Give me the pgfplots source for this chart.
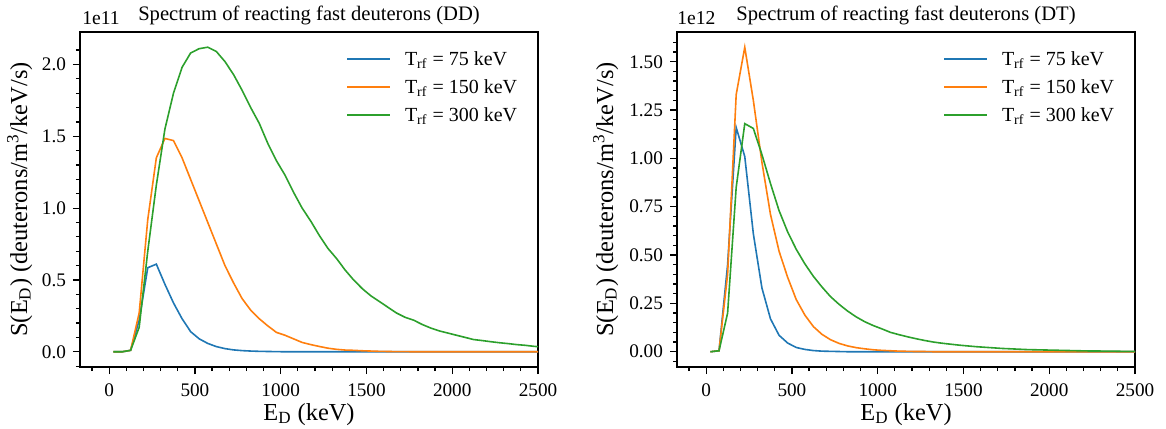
\documentclass[border=0pt]{standalone}
\usepackage{fontspec}
\setmainfont{Liberation Serif}
\usepackage{pgfplots}
\usepackage{pgfplotstable}
\pgfplotsset{compat=1.18}

\definecolor{mplblue}{HTML}{1F77B4}
\definecolor{mplorange}{HTML}{FF7F0E}
\definecolor{mplgreen}{HTML}{2CA02C}

% columns: E_D (keV), T_rf = 75, 150, 300 keV ; values in 1e11
\pgfplotstableread{
E    a      b      c
25   0      0      0
75   0      0      0
125  0.01   0.01   0.01
175  0.22   0.27   0.17
225  0.585  0.92   0.70
275  0.61   1.35   1.16
325  0.47   1.485  1.55
375  0.34   1.47   1.80
425  0.23   1.35   1.98
475  0.14   1.20   2.08
525  0.09   1.05   2.11
575  0.058  0.90   2.12
625  0.036  0.75   2.09
675  0.022  0.60   2.02
725  0.013  0.48   1.93
775  0.008  0.37   1.82
825  0.005  0.29   1.70
875  0.003  0.23   1.59
925  0.002  0.18   1.45
975  0.001  0.135  1.33
1025 0      0.115  1.23
1075 0      0.09   1.11
1125 0      0.065  1.00
1175 0      0.05   0.91
1225 0      0.037  0.81
1275 0      0.025  0.72
1325 0      0.017  0.65
1375 0      0.012  0.57
1425 0      0.01   0.50
1475 0      0.007  0.44
1525 0      0.005  0.39
1575 0      0.003  0.35
1625 0      0.002  0.31
1675 0      0.001  0.27
1725 0      0.001  0.24
1775 0      0      0.22
1825 0      0      0.19
1875 0      0      0.165
1925 0      0      0.145
1975 0      0      0.13
2025 0      0      0.115
2075 0      0      0.10
2125 0      0      0.085
2175 0      0      0.078
2225 0      0      0.07
2275 0      0      0.063
2325 0      0      0.057
2375 0      0      0.05
2425 0      0      0.045
2475 0      0      0.038
2525 0      0      0.033
}\ddtable

% same columns, values in 1e12
\pgfplotstableread{
E    a      b      c
25   0      0      0
75   0.005  0.005  0.005
125  0.45   0.40   0.20
175  1.16   1.33   0.85
225  1.01   1.575  1.18
275  0.61   1.30   1.155
325  0.33   0.98   1.02
375  0.17   0.71   0.87
425  0.085  0.52   0.73
475  0.045  0.385  0.62
525  0.022  0.27   0.53
575  0.012  0.19   0.455
625  0.006  0.13   0.39
675  0.003  0.09   0.335
725  0.002  0.062  0.285
775  0.001  0.043  0.245
825  0      0.03   0.21
875  0      0.021  0.18
925  0      0.015  0.155
975  0      0.01   0.135
1025 0      0.007  0.118
1075 0      0.005  0.10
1125 0      0.003  0.088
1175 0      0.002  0.077
1225 0      0.001  0.067
1275 0      0.001  0.058
1325 0      0      0.05
1375 0      0      0.044
1425 0      0      0.039
1475 0      0      0.034
1525 0      0      0.03
1575 0      0      0.026
1625 0      0      0.023
1675 0      0      0.02
1725 0      0      0.017
1775 0      0      0.015
1825 0      0      0.013
1875 0      0      0.011
1925 0      0      0.01
1975 0      0      0.009
2025 0      0      0.008
2075 0      0      0.007
2125 0      0      0.006
2175 0      0      0.005
2225 0      0      0.004
2275 0      0      0.004
2325 0      0      0.003
2375 0      0      0.003
2425 0      0      0.002
2475 0      0      0.002
2525 0      0      0.002
}\dttable

\pgfplotsset{
  legimg/.style={legend image code/.code={%
    \draw[#1, line width=0.8pt] (0pt,0.6pt) -- (21.5pt,0.6pt);
    \path (28.5pt,0.6pt);}},
  specplot/.style={
    width=229pt, height=167.5pt, scale only axis,
    anchor=south west, clip mode=individual,
    axis line style={line width=0.8pt},
    tick align=outside, tick pos=left,
    major tick length=3.5pt, minor tick length=2pt,
    every tick/.style={black, line width=0.6pt},
    xmin=-170, xmax=2500,
    xtick={0,500,...,2500},
    minor xtick={-100,0,...,2500},
    /pgf/number format/assume math mode=true,
    ticklabel style={font=\fontsize{9.6}{11}\selectfont},
    xticklabel style={yshift=-1.5pt},
    scaled ticks=false,
    xticklabel={\pgfmathprintnumber[fixed,1000 sep={}]{\tick}},
    xlabel={E\textsubscript{D} (keV)},
    ylabel={S(E\textsubscript{D}) (deuterons/m\textsuperscript{3}/keV/s)},
    label style={font=\fontsize{12.2}{14}\selectfont},
    xlabel style={at={(rel axis cs:0.5,0)}, anchor=base, yshift=-26.5pt},
    title style={font=\fontsize{10.3}{12}\selectfont, at={(rel axis cs:0.5,1)}, anchor=base, yshift=-0.5pt},
    legend cell align=left,
    legend style={draw=none, fill=none, inner sep=0pt, anchor=north west,
      at={(0.5808,0.947)}, row sep=4pt,
      font=\fontsize{10}{12}\selectfont,
      nodes={inner sep=0pt, text height=7.5pt, text depth=2.5pt}},
    every axis plot/.append style={line width=0.8pt},
  }
}

\begin{document}
\begin{tikzpicture}
\useasboundingbox (0,0) rectangle (583pt,214pt);

\begin{axis}[specplot, at={(40pt,30.5pt)},
  ymin=-0.106, ymax=2.226,
  ytick={0,0.5,...,2.0},
  minor ytick={-0.1,0,0.1,...,2.2},
  yticklabel={\pgfmathprintnumber[fixed,fixed zerofill,precision=1]{\tick}},
  ylabel style={at={(rel axis cs:-0.1157,0.5)}, anchor=base},
  title={Spectrum of reacting fast deuterons (DD)}]
\addplot[mplblue, legimg=mplblue] table[x=E,y=a] {\ddtable};
\addplot[mplorange, legimg=mplorange] table[x=E,y=b] {\ddtable};
\addplot[mplgreen, legimg=mplgreen] table[x=E,y=c] {\ddtable};
\legend{T\textsubscript{rf} = 75 keV, T\textsubscript{rf} = 150 keV, T\textsubscript{rf} = 300 keV}
\node[anchor=base west, inner sep=0pt, font=\fontsize{9.8}{12}\selectfont]
  at (rel axis cs:0,1) [xshift=1pt, yshift=3.5pt] {1e11};
\end{axis}

\begin{axis}[specplot, at={(338.5pt,30.5pt)},
  ymin=-0.079, ymax=1.654,
  ytick={0,0.25,...,1.5},
  minor ytick={-0.05,0,0.05,...,1.65},
  yticklabel={\pgfmathprintnumber[fixed,fixed zerofill,precision=2]{\tick}},
  ylabel style={at={(rel axis cs:-0.1397,0.5)}, anchor=base},
  title={Spectrum of reacting fast deuterons (DT)}]
\addplot[mplblue, legimg=mplblue] table[x=E,y=a] {\dttable};
\addplot[mplorange, legimg=mplorange] table[x=E,y=b] {\dttable};
\addplot[mplgreen, legimg=mplgreen] table[x=E,y=c] {\dttable};
\legend{T\textsubscript{rf} = 75 keV, T\textsubscript{rf} = 150 keV, T\textsubscript{rf} = 300 keV}
\node[anchor=base west, inner sep=0pt, font=\fontsize{9.8}{12}\selectfont]
  at (rel axis cs:0,1) [xshift=0pt, yshift=3.5pt] {1e12};
\end{axis}
\end{tikzpicture}
\end{document}
